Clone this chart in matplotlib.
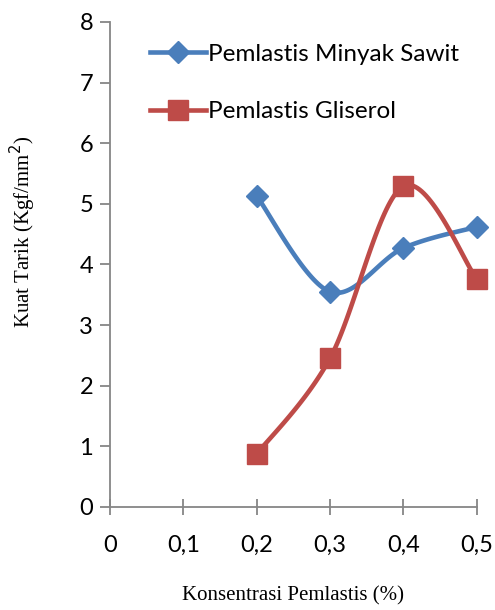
import numpy as np
import matplotlib
matplotlib.use("Agg")
import matplotlib.pyplot as plt
from matplotlib.lines import Line2D

# data
konsentrasi = [0.2, 0.3, 0.4, 0.5]
minyak_sawit = [5.13, 3.55, 4.27, 4.62]
gliserol = [0.87, 2.45, 5.29, 3.76]

x_ticks = [0, 0.1, 0.2, 0.3, 0.4, 0.5]
x_ticklabels = ["0", "0,1", "0,2", "0,3", "0,4", "0,5"]
y_ticks = [0, 1, 2, 3, 4, 5, 6, 7, 8]

BLUE = "#4A7EBB"
RED = "#BE4B48"
SPINE = "#868686"


def smooth(xs, ys, n=40):
    """Excel-like smoothed line: cubic Bezier through points, Catmull-Rom control points."""
    xs = np.asarray(xs, float)
    ys = np.asarray(ys, float)
    pts = np.column_stack([xs, ys])
    out = []
    for i in range(len(pts) - 1):
        p0 = pts[i - 1] if i > 0 else pts[i]
        p1 = pts[i]
        p2 = pts[i + 1]
        p3 = pts[i + 2] if i + 2 < len(pts) else pts[i + 1]
        c1 = p1 + (p2 - p0) / 6.0
        c2 = p2 - (p3 - p1) / 6.0
        t = np.linspace(0, 1, n)[:, None]
        seg = ((1 - t) ** 3) * p1 + 3 * ((1 - t) ** 2) * t * c1 + 3 * (1 - t) * t ** 2 * c2 + t ** 3 * p2
        out.append(seg if i == 0 else seg[1:])
    seg = np.vstack(out)
    return seg[:, 0], seg[:, 1]


fig = plt.figure(figsize=(4.95, 6.1), dpi=100)
ax = fig.add_axes([0.222, 0.169, 0.741, 0.795])

sx, sy = smooth(konsentrasi, minyak_sawit)
ax.plot(sx, sy, color=BLUE, linewidth=3.3, solid_capstyle="round", zorder=2, clip_on=False)
ax.plot(konsentrasi, minyak_sawit, linestyle="none", marker="D", markersize=11,
        color=BLUE, zorder=3, clip_on=False)

gx, gy = smooth(konsentrasi, gliserol)
ax.plot(gx, gy, color=RED, linewidth=3.3, solid_capstyle="round", zorder=2, clip_on=False)
ax.plot(konsentrasi, gliserol, linestyle="none", marker="s", markersize=14,
        color=RED, zorder=3, clip_on=False)

ax.set_xlim(0, 0.5)
ax.set_ylim(0, 8)
ax.set_xticks(x_ticks)
ax.set_xticklabels(x_ticklabels)
ax.set_yticks(y_ticks)

tick_font = "Lato"
for lab in ax.get_xticklabels() + ax.get_yticklabels():
    lab.set_fontfamily(tick_font)
    lab.set_fontsize(17)

ax.spines["top"].set_visible(False)
ax.spines["right"].set_visible(False)
for s in ("left", "bottom"):
    ax.spines[s].set_color(SPINE)
    ax.spines[s].set_linewidth(1.3)
ax.tick_params(axis="y", direction="out", length=7, width=1.3, color=SPINE, pad=5)
ax.tick_params(axis="x", direction="inout", length=12, width=1.3, color=SPINE, pad=14)

ax.set_ylabel("Kuat Tarik (Kgf/mm$^2$)", family="Liberation Serif", fontsize=15)
ax.yaxis.set_label_coords(-0.195, 0.567)
ax.set_xlabel("Konsentrasi Pemlastis (%)", family="Liberation Serif", fontsize=15, labelpad=22)

handles = [
    Line2D([], [], color=BLUE, linewidth=3.3, marker="D", markersize=11),
    Line2D([], [], color=RED, linewidth=3.3, marker="s", markersize=14),
]
ax.legend(handles, ["Pemlastis Minyak Sawit", "Pemlastis Gliserol"],
          loc="upper left", bbox_to_anchor=(0.05, 1.0), frameon=False,
          prop={"family": tick_font, "size": 17.5}, handlelength=2.3,
          handletextpad=0.1, labelspacing=1.5)

fig.savefig("out.png", dpi=100, facecolor="white")
